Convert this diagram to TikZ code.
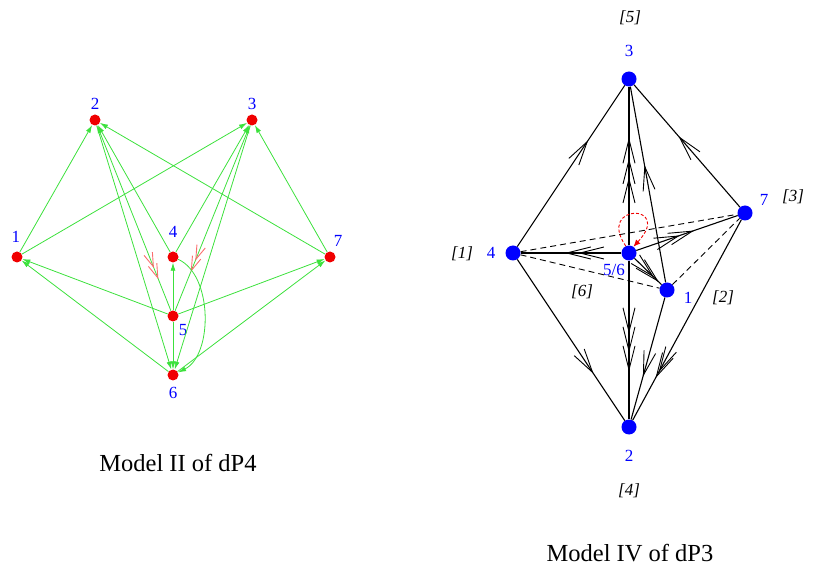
\documentclass[tikz,border=0pt]{standalone}
\usepackage{fontspec}
\setmainfont{Liberation Serif}
\usetikzlibrary{arrows.meta,decorations.markings}

\definecolor{qgreen}{RGB}{60,225,60}
\definecolor{qred}{RGB}{240,0,0}
\definecolor{qpink}{RGB}{250,110,110}

\begin{document}
\begin{tikzpicture}[x=1pt,y=-1pt,
  rdot/.style={circle,fill=qred,inner sep=0pt,minimum size=11pt},
  bdot/.style={circle,fill=blue,inner sep=0pt,minimum size=15pt},
  lab/.style={text=blue,font=\fontsize{17}{19}\selectfont},
  blab/.style={font=\fontsize{17}{19}\selectfont\itshape},
  title/.style={font=\fontsize{24.5}{28}\selectfont},
  garr/.style={qgreen,line width=0.8pt,-{Latex[length=8pt,width=5pt]}},
  bline/.style={line width=1.1pt},
  dline/.style={line width=0.9pt,dash pattern=on 6pt off 4pt},
  chev/.style={postaction={decorate,decoration={markings,
      mark=at position #1 with {\arrow[line width=0.9pt]{Straight Barb[length=24pt,width=12pt]}}}}},
  pchev/.style={postaction={decorate,decoration={markings,
      mark=at position #1 with {\arrowreversed[qpink,line width=0.9pt]{Straight Barb[length=14pt,width=9pt]}}}}},
]
  \useasboundingbox (0,0) rectangle (817,577);

  % Model II of dP4
  \node[rdot] (q1) at (17,257) {};
  \node[rdot] (q2) at (95,120) {};
  \node[rdot] (q3) at (252,120) {};
  \node[rdot] (q4) at (173,257) {};
  \node[rdot] (q5) at (173,316) {};
  \node[rdot] (q6) at (173,375) {};
  \node[rdot] (q7) at (330,257) {};
  \node[lab] (l1) at (16,237) {1};
  \node[lab] (l2) at (95,104) {2};
  \node[lab] (l3) at (252,104) {3};
  \node[lab] (l4) at (173,232) {4};
  \node[lab] (l5) at (183,330) {5};
  \node[lab] (l6) at (173,393) {6};
  \node[lab] (l7) at (338,241) {7};

  \draw[garr] (q1) -- (q2);
  \draw[garr] (q1) -- (q3);
  \draw[garr] (q5) -- (q1);
  \draw[garr] (q6) -- (q1);
  \draw[garr] (q7) -- (q2);
  \draw[garr] (q7) -- (q3);
  \draw[garr] (q5) -- (q7);
  \draw[garr] (q6) -- (q7);
  \draw[garr] (q4) -- (q2);
  \draw[garr] (q4) -- (q3);
  \draw[garr,pchev=0.17,pchev=0.23] (q5) -- (q2);
  \draw[garr,pchev=0.21,pchev=0.27] (q5) -- (q3);
  \draw[garr] (q2) -- (q6);
  \draw[garr] (q3) -- (q6);
  \draw[garr] (q5) -- (q4);
  \draw[garr] (q5) -- (q6);
  \draw[garr] (q4) .. controls (213,275) and (213,355) .. (q6);

  \node[title] (m2) at (178,463) {Model II of dP4};

  % Model IV of dP3
  \node[bdot] (t3) at (629,79) {};
  \node[bdot] (t7) at (745,213) {};
  \node[bdot] (t4) at (513,253) {};
  \node[bdot] (t56) at (629,253) {};
  \node[bdot] (t1) at (667,290) {};
  \node[bdot] (t2) at (629,427) {};

  \node[lab] (s3) at (629,51) {3};
  \node[lab] (s7) at (764,200) {7};
  \node[lab] (s4) at (491,253) {4};
  \node[lab] (s56) at (614,270) {5/6};
  \node[lab] (s1) at (688,298) {1};
  \node[lab] (s2) at (629,456) {2};
  \node[blab] (b5) at (630,18) {[5]};
  \node[blab] (b3) at (793,197) {[3]};
  \node[blab] (b1) at (462,254) {[1]};
  \node[blab] (b2) at (723,298) {[2]};
  \node[blab] (b6) at (582,292) {[6]};
  \node[blab] (b4) at (629,491) {[4]};

  \draw[dline] (t4) -- (t7);
  \draw[dline] (t4) -- (t1);
  \draw[dline] (t1) -- (t7);

  \draw[bline,chev=0.66] (t4) -- (t3);
  \draw[bline,chev=0.58] (t7) -- (t3);
  \draw[bline,chev=0.43,chev=0.55,chev=0.68] (t56) -- (t3);
  \draw[bline,chev=0.60] (t1) -- (t3);
  \draw[bline,chev=0.43,chev=0.56] (t56) -- (t4);
  \draw[bline,chev=0.43,chev=0.57] (t56) -- (t7);
  \draw[bline,chev=0.72,chev=0.9] (t56) -- (t1);
  \draw[bline,chev=0.71] (t4) -- (t2);
  \draw[bline,chev=0.46,chev=0.58,chev=0.70] (t56) -- (t2);
  \draw[bline,chev=0.65] (t1) -- (t2);
  \draw[bline,chev=0.76,chev=0.79] (t7) -- (t2);

  \draw[qred,line width=0.9pt,dash pattern=on 3pt off 2pt,-{Latex[length=7pt,width=6pt]}]
    (t56.115) .. controls (596,203) and (674,203) .. (t56.55);

  \node[title] (m4) at (630,553) {Model IV of dP3};
\end{tikzpicture}
\end{document}
